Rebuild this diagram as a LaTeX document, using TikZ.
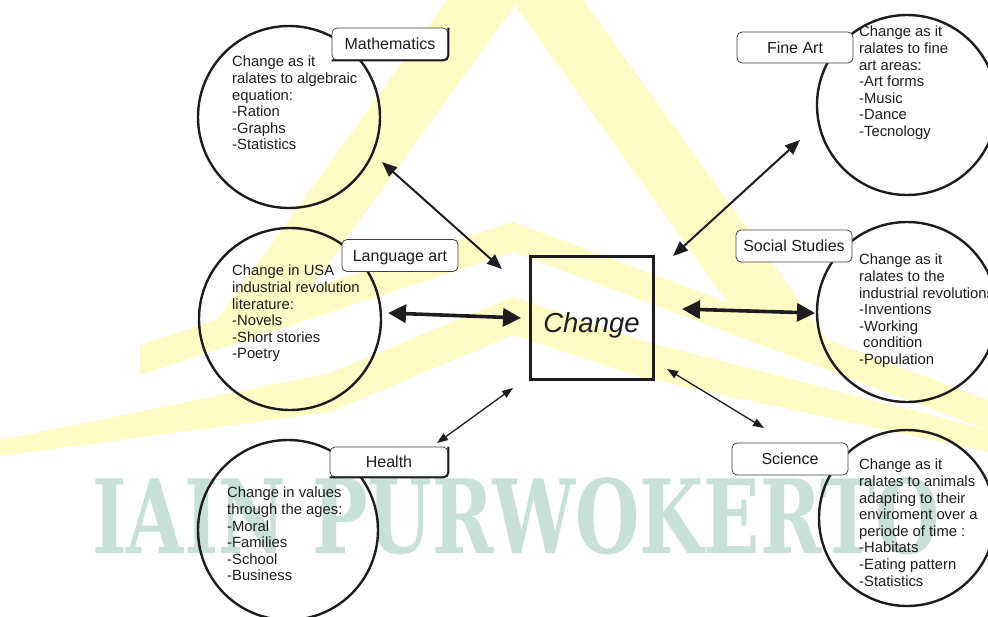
\documentclass[tikz,border=0pt]{standalone}
\usepackage{fontspec}
\usepackage{graphicx}
\setmainfont{Liberation Sans}
\newfontfamily\wmfont{DejaVu Serif}
\usetikzlibrary{arrows.meta}

\definecolor{ink}{RGB}{30,28,30}
\definecolor{wmyellow}{RGB}{255,251,196}
\definecolor{wmgreen}{RGB}{200,224,215}

\begin{document}
\begin{tikzpicture}[x=1pt,y=-1pt,
  bubble/.style={circle, draw=ink, line width=2.4pt, inner sep=0pt, minimum size=182pt},
  tag/.style={rectangle, draw=ink!85, line width=0.8pt, fill=white, rounded corners=5pt,
    minimum width=116pt, minimum height=32pt, inner sep=0pt,
    text height=11.6pt, text depth=0pt, text=ink, font=\fontsize{16}{18}\selectfont},
  heavyedge/.style={draw=ink, line width=2pt, rounded corners=5pt},
  note/.style={anchor=north west, inner sep=0pt, align=left, text=ink,
    font=\fontsize{14.8}{16.6}\selectfont},
  centre/.style={rectangle, draw=ink, line width=3pt, minimum width=123pt, minimum height=123pt,
    inner sep=0pt, text height=29pt, text depth=0pt, text=ink,
    font=\fontsize{27.5}{30}\selectfont\itshape},
  linkthick/.style={draw=ink, line width=3.6pt,
    {Triangle[length=18pt,width=18pt]}-{Triangle[length=18pt,width=18pt]}},
  linkmid/.style={draw=ink, line width=2pt,
    {Triangle[length=15pt,width=12pt]}-{Triangle[length=15pt,width=12pt]}},
  linkthin/.style={draw=ink, line width=1.3pt,
    {Triangle[length=11pt,width=8pt]}-{Triangle[length=11pt,width=8pt]}}
]
\useasboundingbox (0,0) rectangle (988,616);

% background emblem
\fill[wmyellow] (447,0) -- (213,325) -- (284,325) -- (515,5) -- (758,345) -- (831,345) -- (583,0) -- cycle;
\fill[wmyellow] (140,345) -- (513,222) -- (988,400) -- (988,430) -- (513,252) -- (140,375) -- cycle;
\fill[wmyellow] (0,440) -- (330,373) -- (513,297) -- (640,340) -- (988,430) -- (988,452)
  -- (640,377) -- (513,335) -- (330,412) -- (0,456) -- cycle;
\node[anchor=north west, inner sep=0pt, text=wmgreen] (mark) at (92,477)
  {\resizebox{847pt}{76pt}{\wmfont\bfseries IAIN PURWOKERTO}};

% texts inside the bubbles
\node[note] (mathT) at (232,56) {Change as it\\ralates to algebraic\\equation:\\-Ration\\-Graphs\\-Statistics};
\node[note] (langT) at (232,265) {Change in USA\\industrial revolution\\literature:\\-Novels\\-Short stories\\-Poetry};
\node[note] (healthT) at (227,487) {Change in values\\through the ages:\\-Moral\\-Families\\-School\\-Business};
\node[note] (artT) at (859,26) {Change as it\\ralates to fine\\art areas:\\-Art forms\\-Music\\-Dance\\-Tecnology};
\node[note] (socT) at (859,254) {Change as it\\ralates to the\\industrial revolutions\\-Inventions\\-Working\\\hspace{4pt}condition\\-Population};
\node[note] (sciT) at (859,459) {Change as it\\ralates to animals\\adapting to their\\enviroment over a\\periode of time :\\-Habitats\\-Eating pattern\\-Statistics};

% bubbles
\node[bubble] (mathC) at (289,117) {};
\node[bubble] (langC) at (290,319) {};
\node[bubble, minimum size=180pt] (healthC) at (288,530) {};
\node[bubble, minimum size=180pt] (artC) at (907,105) {};
\node[bubble, minimum size=180pt] (socC) at (907,312) {};
\node[bubble, minimum size=176pt] (sciC) at (907,518) {};

% subject tags
\node[tag] (mathL) at (390,44) {Mathematics};
\draw[heavyedge] (mathL.north east) -- (mathL.south east) -- (mathL.south west);
\node[tag] (langL) at (400,255.5) {Language art};
\node[tag, minimum height=30pt, minimum width=118pt] (healthL) at (389,462) {Health};
\draw[heavyedge] (healthL.north east) -- (healthL.south east) -- (healthL.south west);
\node[tag, minimum height=31pt] (artL) at (795,47.5) {Fine Art};
\node[tag] (socL) at (794,246) {Social Studies};
\node[tag] (sciL) at (790,459) {Science};

% central concept
\node[centre] (change) at (591.5,317.5) {Change};

% arrow ends
\coordinate (mathA) at (382,162);   \coordinate (mathB) at (502,269);
\coordinate (langA) at (388,313);   \coordinate (langB) at (521,318);
\coordinate (healthA) at (437,443); \coordinate (healthB) at (513,388);
\coordinate (artA) at (800,140);    \coordinate (artB) at (673,256);
\coordinate (socA) at (815,313);    \coordinate (socB) at (682,309);
\coordinate (sciA) at (764,428);    \coordinate (sciB) at (667,369);

\draw[linkmid] (mathA) -- (mathB);
\draw[linkthick] (langA) -- (langB);
\draw[linkthin] (healthA) -- (healthB);
\draw[linkmid] (artA) -- (artB);
\draw[linkthick] (socA) -- (socB);
\draw[linkthin] (sciA) -- (sciB);
\end{tikzpicture}
\end{document}
